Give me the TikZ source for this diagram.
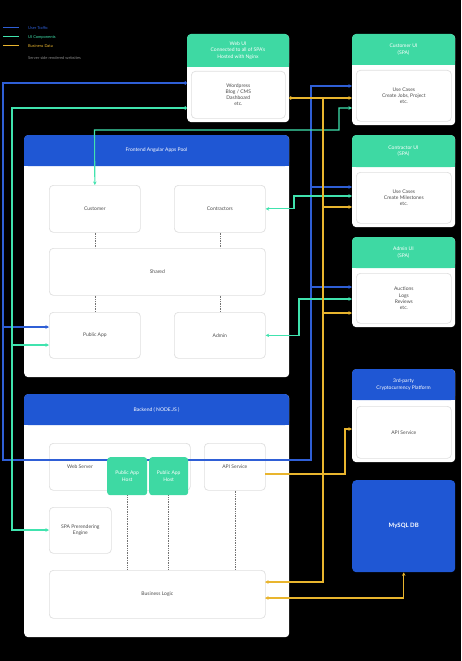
\documentclass[tikz,border=0pt]{standalone}
\usepackage{fontspec}
\setmainfont{Lato}
\usetikzlibrary{arrows.meta}
\definecolor{cblue}{HTML}{2F5FD6}
\definecolor{hblue}{HTML}{1F57D4}
\definecolor{cgreen}{HTML}{40E3AE}
\definecolor{hgreen}{HTML}{3ED9A3}
\definecolor{cyel}{HTML}{E9B52E}
\newcommand\mkpanel[8]{%
  \node[panel, minimum width=#4pt, minimum height=#5pt] (#1) at (#2,#3) {};
  \fill[#7, rounded corners=4pt] (#2,#3) rectangle (#2+#4,#3+#6);
  \fill[#7] (#2,#3+#6-5) rectangle (#2+#4,#3+#6);
  \node[text=white] (#1h) at (#2+#4/2,#3+#6/2) {#8};
}
\begin{document}
\begin{tikzpicture}[x=1pt,y=-1pt,
  every node/.style={font=\fontsize{5}{6.2}\selectfont, align=center, inner sep=0pt},
  panel/.style={fill=white, rounded corners=4pt, anchor=north west},
  card/.style={fill=white, draw=black!12, line width=0.7pt, rounded corners=4pt, anchor=north west, text=black!70},
  hostbox/.style={fill=hgreen, rounded corners=3pt, anchor=north west, text=white},
  wire/.style={line width=1.1pt},
  tip/.style={-{Stealth[length=3.5pt,width=3.5pt]}},
  dtip/.style={{Stealth[length=3.5pt,width=3.5pt]}-{Stealth[length=3.5pt,width=3.5pt]}},
  stip/.style={{Circle[length=3.5pt]}-{Stealth[length=3.5pt,width=3.5pt]}},
  dotl/.style={densely dotted, line width=0.7pt, draw=black!55},
  legend/.style={anchor=west, font=\fontsize{4}{5}\selectfont}
  ]
\fill[black] (0,0) rectangle (461,661);
\useasboundingbox (0,0) rectangle (461,661);

% legend
\coordinate (lb1) at (3,28); \coordinate (lb2) at (19,28);
\coordinate (lg1) at (3,37); \coordinate (lg2) at (19,37);
\coordinate (ly1) at (3,46); \coordinate (ly2) at (19,46);
\draw[cblue, line width=1pt] (lb1) -- (lb2);
\draw[cgreen, line width=1pt] (lg1) -- (lg2);
\draw[cyel, line width=1pt] (ly1) -- (ly2);
\node[legend, text=cblue] (leg1) at (28,28) {User Traffic};
\node[legend, text=cgreen] (leg2) at (28,37) {UI Components};
\node[legend, text=cyel] (leg3) at (28,46) {Business Data};
\node[legend, text=black!45] (leg4) at (28,58) {Server side rendered websites};

% panels
\mkpanel{web}{187}{34}{102}{88}{33}{hgreen}{Web UI\\Connected to all of SPA's\\Hosted with Nginx}
\node[card, minimum width=94pt, minimum height=47pt] (webin) at (191,71) {Wordpress\\Blog / CMS\\Dashboard\\etc.};

\mkpanel{cust}{352}{34}{103}{91}{31}{hgreen}{Customer UI\\(SPA)}
\node[card, minimum width=95pt, minimum height=51pt] (custin) at (356,70) {Use Cases\\Create Jobs, Project\\etc.};

\mkpanel{contr}{352}{135}{103}{92}{32}{hgreen}{Contractor UI\\(SPA)}
\node[card, minimum width=95pt, minimum height=51pt] (contrin) at (356,172) {Use Cases\\Create Milestones\\etc.};

\mkpanel{adm}{352}{237}{103}{90}{31}{hgreen}{Admin UI\\(SPA)}
\node[card, minimum width=95pt, minimum height=50pt] (admin2) at (356,273) {Auctions\\Logs\\Reviews\\etc.};

\mkpanel{third}{352}{369}{103}{93}{31}{hblue}{3rd-party\\Cryptocurrency Platform}
\node[card, minimum width=95pt, minimum height=52pt] (thirdin) at (356,406) {API Service};

\node[fill=hblue, rounded corners=4pt, anchor=north west, minimum width=103pt, minimum height=92pt, text=white, font=\fontsize{6}{7}\selectfont\bfseries] (mysql) at (352,480) {MySQL DB};

% frontend
\mkpanel{fe}{24}{135}{265}{242}{31}{hblue}{Frontend Angular Apps Pool}
\node[card, minimum width=91pt, minimum height=47pt] (customer) at (49,185) {Customer};
\node[card, minimum width=91pt, minimum height=47pt] (contractors) at (174,185) {Contractors};
\node[card, minimum width=216pt, minimum height=47pt] (shared) at (49,248) {Shared};
\node[card, minimum width=91pt, minimum height=46pt] (publicapp) at (49,312) {Public App};
\node[card, minimum width=91pt, minimum height=46pt] (admin) at (174,312) {Admin};
\draw[dotl] (customer.south) -- (customer.south |- shared.north);
\draw[dotl] (contractors.south) -- (contractors.south |- shared.north);
\draw[dotl] (publicapp.north |- shared.south) -- (publicapp.north);
\draw[dotl] (admin.north |- shared.south) -- (admin.north);

% backend
\mkpanel{be}{24}{394}{265}{243}{31}{hblue}{Backend ( NODE.JS )}
\node[card, minimum width=141pt, minimum height=47pt] (webserver) at (49,443) {};
\node[text=black!70] (wslabel) at (80,467) {Web Server};
\node[card, minimum width=61pt, minimum height=47pt] (apiservice) at (204,443) {API Service};
\node[card, minimum width=62pt, minimum height=46pt] (spa) at (49,507) {SPA Prerendering\\Engine};
\node[card, minimum width=216pt, minimum height=48pt] (bl) at (49,570) {Business Logic};

% connector ports
\coordinate (webB) at (187,83);
\coordinate (webG) at (187,108);
\coordinate (webY) at (289,98);
\coordinate (custB) at (352,86);
\coordinate (custY) at (352,98);
\coordinate (custG) at (352,108);
\coordinate (contrB) at (352,187);
\coordinate (contrG) at (352,196);
\coordinate (contrY) at (352,207);
\coordinate (admB) at (352,287);
\coordinate (admG) at (352,299);
\coordinate (admY) at (352,313);
\coordinate (thirdY) at (352,429);
\coordinate (paB) at (49,327);
\coordinate (paG) at (49,345);
\coordinate (spaG) at (49,530);
\coordinate (apiY) at (265,474);
\coordinate (blY1) at (265,582);
\coordinate (blY2) at (265,598);

% blue wires
\draw[wire, cblue, stip] (webB) -- (3,83) -- (3,460) -- (311,460) -- (311,86) -- (custB);
\draw[wire, cblue, tip] (311,187) -- (contrB);
\draw[wire, cblue, tip] (311,287) -- (admB);
\draw[wire, cblue, tip] (3,327) -- (paB);

% green wires
\draw[wire, cgreen, stip] (webG) -- (12,108) -- (12,530) -- (spaG);
\draw[wire, cgreen, tip] (12,345) -- (paG);
\draw[wire, cgreen, dtip] (custG) -- (339,108) -- (339,130) -- (94.5,130) -- (customer.north);
\draw[wire, cgreen, dtip] (contrG) -- (294,196) |- (contractors.east);
\draw[wire, cgreen, dtip] (admG) -- (299,299) |- (admin.east);

% yellow wires
\draw[wire, cyel, stip] (webY) -- (custY);
\draw[wire, cyel, tip] (323,98) -- (323,582) -- (blY1);
\draw[wire, cyel, tip] (323,207) -- (contrY);
\draw[wire, cyel, tip] (323,313) -- (admY);
\draw[wire, cyel, tip] (apiY) -- (345,474) -- (345,429) -- (thirdY);
\draw[wire, cyel, dtip] (mysql.south) -- (mysql.south |- blY2) -- (blY2);

% hosts on top
\node[hostbox, minimum width=40pt, minimum height=38pt] (host1) at (107,457) {Public App\\Host};
\node[hostbox, minimum width=39pt, minimum height=38pt] (host2) at (149,457) {Public App\\Host};
\draw[dotl] (host1.south) -- (host1.south |- bl.north);
\draw[dotl] (host2.south) -- (host2.south |- bl.north);
\draw[dotl] (apiservice.south) -- (apiservice.south |- bl.north);
\end{tikzpicture}
\end{document}
